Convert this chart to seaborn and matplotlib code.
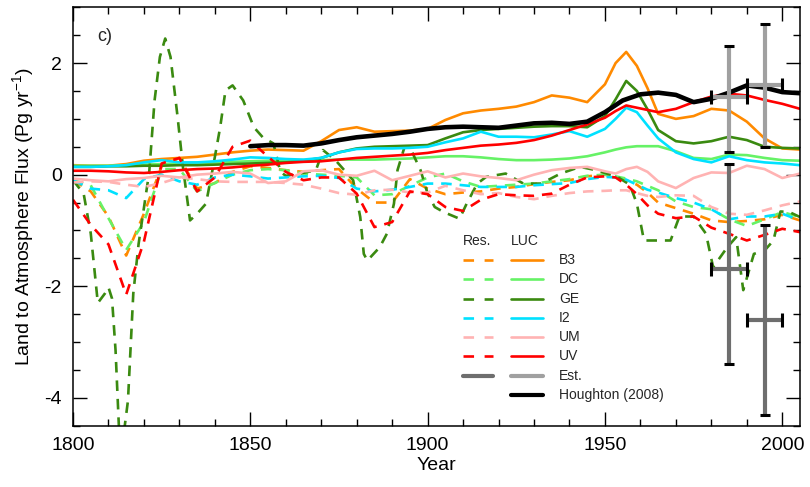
import numpy as np
import pandas as pd
import matplotlib
matplotlib.use("Agg")
import matplotlib.pyplot as plt
from matplotlib.ticker import MultipleLocator
import seaborn as sns

# ---------------------------------------------------------
# Data
# ---------------------------------------------------------
years = list(range(1800, 1951, 5)) + [1953, 1956, 1959, 1962] + list(range(1965, 2006, 5))

models = ["B3", "DC", "GE", "I2", "UM", "UV"]
colors = ["#ff8a00", "#66f266", "#3a8a10", "#00e1ff", "#ffb3b3", "#ff0000"]

# LUC flux (solid)
luc_b3 = [0.17, 0.16, 0.16, 0.19, 0.25, 0.28, 0.30, 0.32, 0.36, 0.40, 0.43, 0.45, 0.44, 0.43, 0.60, 0.80,
          0.85, 0.77, 0.78, 0.79, 0.82, 0.98, 1.10, 1.15, 1.18, 1.22, 1.30, 1.42, 1.38, 1.30, 1.62,
          2.00, 2.20, 1.95, 1.55, 1.09, 1.00, 1.05, 1.18, 1.15, 0.95, 0.65, 0.47, 0.45]
luc_dc = [0.16, 0.16, 0.16, 0.17, 0.18, 0.19, 0.20, 0.21, 0.22, 0.23, 0.24, 0.25, 0.25, 0.26, 0.26, 0.27,
          0.27, 0.27, 0.28, 0.29, 0.31, 0.33, 0.33, 0.31, 0.28, 0.26, 0.26, 0.27, 0.29, 0.33, 0.40,
          0.45, 0.49, 0.51, 0.51, 0.51, 0.42, 0.30, 0.28, 0.36, 0.35, 0.30, 0.26, 0.25]
luc_ge = [0.14, 0.14, 0.15, 0.15, 0.16, 0.16, 0.17, 0.17, 0.18, 0.19, 0.20, 0.21, 0.22, 0.25, 0.30, 0.40,
          0.47, 0.50, 0.51, 0.52, 0.53, 0.65, 0.76, 0.80, 0.82, 0.84, 0.86, 0.87, 0.87, 0.85, 1.05,
          1.35, 1.68, 1.50, 1.17, 0.80, 0.60, 0.56, 0.60, 0.68, 0.62, 0.50, 0.48, 0.47]
luc_i2 = [0.14, 0.14, 0.15, 0.17, 0.22, 0.26, 0.22, 0.22, 0.24, 0.27, 0.31, 0.30, 0.28, 0.27, 0.30, 0.40,
          0.46, 0.47, 0.47, 0.48, 0.50, 0.58, 0.65, 0.77, 0.68, 0.68, 0.67, 0.72, 0.78, 0.68, 0.82,
          1.00, 1.20, 1.12, 0.88, 0.65, 0.40, 0.28, 0.22, 0.33, 0.26, 0.22, 0.20, 0.17]
luc_um = [-0.07, -0.10, -0.12, -0.08, -0.06, -0.02, -0.05, 0.00, 0.02, 0.05, 0.02, -0.15, -0.12, 0.06, 0.08, 0.00,
          -0.02, 0.07, -0.10, -0.02, 0.06, -0.05, 0.02, -0.03, -0.06, -0.10, 0.00, 0.08, 0.12, 0.14, 0.06,
          0.02, 0.10, 0.14, 0.05, -0.12, -0.24, -0.06, 0.04, 0.03, 0.16, 0.10, -0.06, 0.02]
luc_uv = [0.07, 0.07, 0.06, 0.04, 0.03, 0.05, 0.08, 0.10, 0.11, 0.13, 0.16, 0.18, 0.21, 0.23, 0.24, 0.27,
          0.30, 0.32, 0.34, 0.36, 0.39, 0.44, 0.48, 0.52, 0.54, 0.57, 0.62, 0.70, 0.80, 0.90, 1.02,
          1.14, 1.24, 1.20, 1.16, 1.12, 1.18, 1.30, 1.40, 1.45, 1.42, 1.34, 1.27, 1.18]

# Residual flux (dashed)
res_b3 = [-0.10, -0.30, -0.75, -1.45, -0.70, 0.15, 0.30, -0.25, -0.15, 0.05, 0.15, 0.12, 0.08, 0.05, 0.08, 0.10,
          -0.25, -0.50, -0.50, -0.08, -0.25, -0.35, -0.32, -0.30, -0.25, -0.22, -0.17, -0.13, -0.10, -0.03, 0.00,
          -0.05, -0.10, -0.18, -0.32, -0.50, -0.60, -0.70, -0.82, -0.85, -0.83, -0.80, -0.72, -0.82]
res_dc = [-0.10, -0.19, -0.78, -1.35, -0.85, 0.10, 0.10, -0.30, -0.15, 0.00, 0.08, 0.10, 0.08, 0.02, 0.00, -0.02,
          -0.05, -0.37, -0.35, -0.20, -0.05, 0.02, -0.12, -0.22, -0.20, -0.18, -0.16, -0.12, -0.08, -0.02, 0.00,
          -0.03, -0.07, -0.12, -0.20, -0.28, -0.48, -0.58, -0.62, -0.80, -0.92, -0.80, -0.67, -0.76]
res_i2 = [-0.10, -0.25, -0.28, -0.42, -0.08, 0.00, -0.12, -0.18, -0.05, 0.00, -0.03, -0.07, -0.05, -0.03, -0.02, -0.06,
          -0.25, -0.30, -0.27, -0.22, -0.16, -0.16, -0.19, -0.22, -0.22, -0.22, -0.19, -0.17, -0.15, -0.08, -0.04,
          -0.05, -0.09, -0.18, -0.27, -0.32, -0.42, -0.50, -0.62, -0.80, -0.75, -0.75, -0.70, -0.82]
res_um = [-0.14, -0.12, -0.13, -0.18, -0.22, -0.15, -0.05, -0.08, -0.12, -0.13, -0.13, -0.13, -0.15, -0.18, -0.25, -0.33,
          -0.36, -0.28, -0.27, -0.32, -0.32, -0.20, -0.28, -0.35, -0.33, -0.40, -0.44, -0.38, -0.33, -0.30, -0.29,
          -0.28, -0.28, -0.33, -0.38, -0.40, -0.37, -0.38, -0.58, -0.70, -0.72, -0.64, -0.55, -0.48]
res_uv = [-0.45, -0.90, -1.25, -2.15, -1.20, 0.20, 0.30, -0.30, -0.05, 0.50, 0.61, 0.32, 0.05, -0.10, -0.05, -0.05,
          -0.34, -0.94, -0.85, -0.30, -0.35, -0.58, -0.65, -0.45, -0.35, -0.37, -0.38, -0.34, -0.18, -0.05, -0.03,
          -0.05, -0.18, -0.35, -0.55, -0.70, -0.78, -0.75, -0.95, -1.06, -1.18, -1.08, -0.97, -1.03]

# GE residual has sharp swings, so it has its own years
ge_years = [1800, 1803, 1805, 1807, 1809, 1810, 1811, 1812, 1813, 1814, 1815.5, 1817, 1818.5, 1821.5,
            1823, 1824.5, 1826, 1827.5, 1829.5, 1831, 1833, 1835, 1837.5, 1839.5, 1841.5, 1843, 1845,
            1848, 1851, 1853.5, 1856.5, 1858.5, 1860, 1864, 1868.5, 1870.5, 1874, 1879, 1881, 1882,
            1883, 1886.5, 1888.5, 1890.5, 1891.5, 1893.5, 1895, 1898, 1900, 1902, 1904.5, 1909, 1911,
            1914, 1916.5, 1922, 1927, 1932, 1937.5, 1943, 1947.5, 1953.5, 1957, 1959, 1961, 1965,
            1968.5, 1971, 1975, 1978.5, 1980.5, 1984.5, 1987, 1989, 1992, 1995, 1997.5, 1999.5, 2002, 2005]
res_ge = [-0.10, -0.34, -1.05, -2.30, -2.13, -2.02, -2.22, -3.15, -4.60, -4.80, -4.05, -2.13, -1.24, 0.05,
          1.33, 2.11, 2.44, 2.11, 1.03, 0.14, -0.82, -0.70, -0.52, 0.14, 0.85, 1.51, 1.60,
          1.33, 0.85, 0.67, 0.56, 0.05, -0.02, 0.02, 0.08, 0.44, 0.26, -0.10, -0.76, -1.42,
          -1.54, -1.30, -1.06, -0.52, 0.08, 0.50, 0.49, 0.08, -0.34, -0.58, -0.67, -0.79, -0.52,
          -0.16, -0.04, 0.02, -0.16, -0.16, 0.02, 0.14, 0.08, -0.04, -0.18, -0.52, -1.18, -1.18,
          -1.18, -0.75, -0.75, -1.06, -1.66, -1.30, -1.12, -2.07, -1.42, -1.36, -1.18, -0.66, -0.67, -0.76]

# Houghton (2008)
hough_years = list(range(1850, 2006, 5))
hough_flux = [0.51, 0.53, 0.53, 0.52, 0.56, 0.62, 0.67, 0.70, 0.73, 0.77, 0.82, 0.85, 0.86, 0.85, 0.84, 0.88,
              0.92, 0.93, 0.91, 0.95, 1.12, 1.33, 1.44, 1.47, 1.43, 1.30, 1.36, 1.47, 1.60, 1.56, 1.48, 1.46]

# Decadal estimates (1980s, 1990s)
est_years = [1985, 1995]
est_res = [-1.7, -2.6]
est_res_lo = [-3.4, -4.3]
est_res_hi = [0.2, -0.9]
est_luc = [1.4, 1.6]
est_luc_lo = [0.4, 0.5]
est_luc_hi = [2.3, 2.7]

luc = dict(zip(models, [luc_b3, luc_dc, luc_ge, luc_i2, luc_um, luc_uv]))
res = dict(zip(models, [res_b3, res_dc, res_ge, res_i2, res_um, res_uv]))

frames = []
for m in models:
    res_x = ge_years if m == "GE" else years
    frames.append(pd.DataFrame({"Year": res_x, "Flux": res[m], "Model": m, "Kind": "Res."}))
    frames.append(pd.DataFrame({"Year": years, "Flux": luc[m], "Model": m, "Kind": "LUC"}))
df = pd.concat(frames, ignore_index=True)

# ---------------------------------------------------------
# Plot
# ---------------------------------------------------------
sns.set_style("ticks")
plt.rcParams["font.family"] = ["Liberation Sans", "DejaVu Sans"]
plt.rcParams["mathtext.default"] = "regular"
plt.rcParams["axes.unicode_minus"] = False

fig, ax = plt.subplots(figsize=(8.1, 4.87), dpi=100)
fig.subplots_adjust(left=73/810, right=800/810, bottom=1-425.7/487, top=1-7.3/487)

res_dash = (4, 3)
sns.lineplot(data=df, x="Year", y="Flux", hue="Model", style="Kind",
             hue_order=models, style_order=["Res.", "LUC"],
             palette=dict(zip(models, colors)), dashes={"Res.": res_dash, "LUC": ""},
             estimator=None, legend=False, lw=1.9, ax=ax)

sns.lineplot(x=hough_years, y=hough_flux, color="black", lw=3.3, ax=ax)

# error bars: grey bars, black caps
dark, light = "#6e6e6e", "#a0a0a0"
for mid, lo, hi, col in [(est_res, est_res_lo, est_res_hi, dark), (est_luc, est_luc_lo, est_luc_hi, light)]:
    mid = np.array(mid)
    yerr = [mid - np.array(lo), np.array(hi) - mid]
    ax.errorbar(est_years, mid, yerr=yerr, xerr=5, fmt="none", ecolor=col, elinewidth=3, capsize=0, zorder=5)
    ax.errorbar(est_years, mid, yerr=yerr, fmt="none", ecolor="black", elinewidth=0, capsize=3.3, capthick=2.2, zorder=6)
    ax.errorbar(est_years, mid, xerr=5, fmt="none", ecolor="black", elinewidth=0, capsize=5.2, capthick=2.2, zorder=6)

ax.set_xlim(1800, 2005)
ax.set_ylim(-4.5, 3.0)
ax.set_xticks([1800, 1850, 1900, 1950, 2000])
ax.set_yticks([-4, -2, 0, 2])
ax.xaxis.set_minor_locator(MultipleLocator(10))
ax.yaxis.set_minor_locator(MultipleLocator(0.5))
ax.tick_params(which="both", direction="in", top=True, right=True, bottom=True, left=True,
               width=1, color="black", labelcolor="black", labelsize=14, pad=8)
ax.tick_params(which="major", length=10)
ax.tick_params(which="minor", length=5)
for sp in ax.spines.values():
    sp.set_linewidth(1.1)
    sp.set_color("black")

ax.set_xlabel("Year", fontsize=14, labelpad=2, color="black")
ax.set_ylabel("Land to Atmosphere Flux (Pg yr$^{-1}$)", fontsize=14, labelpad=6, color="black")
ax.text(0.034, 0.93, "c)", transform=ax.transAxes, fontsize=13, va="center")

# legend (two columns of line keys: Res. and LUC)
lx0, lx1, cx0, cx1, tx = 0.5365, 0.578, 0.6025, 0.6465, 0.6685
top, step = 0.396, 0.0461
ax.text(lx0, top + step, "Res.", transform=ax.transAxes, fontsize=10, va="center")
ax.text(cx0, top + step, "LUC", transform=ax.transAxes, fontsize=10, va="center")
rows = [(m, c, c) for m, c in zip(models, colors)] + [("Est.", dark, light), ("Houghton (2008)", None, "black")]
for i, (name, rc, lc) in enumerate(rows):
    yy = top - i * step
    lw = 1.9 if i < len(models) else 3
    if rc is not None:
        ls = (0, (4, 4)) if i < len(models) else "-"
        ax.plot([lx0, lx1], [yy, yy], color=rc, lw=lw, ls=ls, transform=ax.transAxes)
    ax.plot([cx0, cx1], [yy, yy], color=lc, lw=lw, transform=ax.transAxes)
    ax.text(tx, yy, name, transform=ax.transAxes, fontsize=10, va="center")

plt.savefig("out.png", dpi=100)
